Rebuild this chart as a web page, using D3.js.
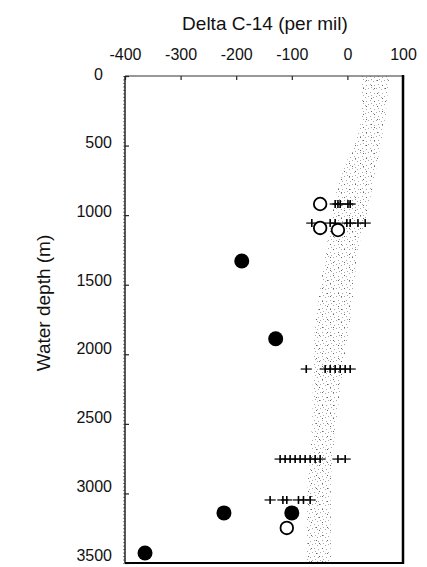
<!DOCTYPE html>
<html>
<head>
<meta charset="utf-8">
<script src="https://cdn.jsdelivr.net/npm/d3@7"></script>
<style>
  body { margin: 0; background: #fff; }
  text { font-family: Arial, "Liberation Sans", Helvetica, sans-serif; fill: #111; }
</style>
</head>
<body>
<svg id="chart" width="427" height="567"></svg>
<script>
// tick labels
var xTicks = [-400, -300, -200, -100, 0, 100];
var yTicks = [0, 500, 1000, 1500, 2000, 2500, 3000, 3500];

// filled circles (depth m, delta C-14 per mil)
var filledDepth = [1330, 1888, 3140, 3140, 3428];
var filledDelta = [-190, -129, -222, -100, -364];

// open circles
var openDepth = [920, 1092, 1107, 3248];
var openDelta = [-49, -49, -17, -109];

// crosses with horizontal error bars
var crossDepth = [920, 920, 920, 920, 920,
    1057, 1057, 1057, 1057, 1057, 1057, 1057,
    2106, 2106, 2106, 2106, 2106, 2106, 2106,
    2753, 2753, 2753, 2753, 2753, 2753, 2753, 2753, 2753, 2753, 2753,
    3047, 3047, 3047, 3047, 3047, 3047];
var crossDelta = [-22, -17, -13, 1, 5,
    -64, -31, -22, -1, 5, 19, 32,
    -74, -40, -31, -22, -13, -4, 5,
    -121, -112, -103, -94, -85, -76, -67, -58, -49, -17, -4,
    -139, -116, -109, -88, -79, -67];
var crossErr = 10;

// stippled band (edges in per mil at each depth)
var bandDepth = [0, 300, 600, 800, 1000, 1200, 1500, 1800, 2100, 2400, 2700, 3000, 3500];
var bandLeft = [25, 25, 0, -18, -28, -36, -48, -58, -62, -63, -66, -72, -73];
var bandRight = [75, 68, 55, 45, 35, 22, 12, 4, -8, -17, -26, -30, -30];

var svg = d3.select('#chart');

var x = d3.scaleLinear().domain([-400, 100]).range([125, 403]);
var y = d3.scaleLinear().domain([0, 3500]).range([76, 563]);

// stipple patterns for the band
var defs = svg.append('defs');
var p1 = defs.append('pattern').attr('id', 'dots1').attr('patternUnits', 'userSpaceOnUse')
    .attr('width', 8).attr('height', 8);
[[0, 0], [5, 1], [2, 4], [6, 5], [3, 7]].forEach(function (d) {
    p1.append('rect').attr('x', d[0]).attr('y', d[1]).attr('width', 1).attr('height', 1).attr('fill', '#aaa');
});
var p2 = defs.append('pattern').attr('id', 'dots2').attr('patternUnits', 'userSpaceOnUse')
    .attr('width', 11).attr('height', 13);
[[3, 2], [8, 7], [0, 10]].forEach(function (d) {
    p2.append('rect').attr('x', d[0]).attr('y', d[1]).attr('width', 1).attr('height', 1).attr('fill', '#666');
});

var band = d3.area()
    .x0(function (d, i) { return x(bandLeft[i]); })
    .x1(function (d, i) { return x(bandRight[i]); })
    .y(function (d) { return y(d); })
    .curve(d3.curveMonotoneY);

svg.append('path').datum(bandDepth).attr('d', band).attr('fill', 'url(#dots1)');
svg.append('path').datum(bandDepth).attr('d', band).attr('fill', 'url(#dots2)');

// top axis
var xAxis = svg.append('g').attr('transform', 'translate(0,76)')
    .call(d3.axisTop(x).tickValues(xTicks).tickSize(-4).tickFormat(d3.format('d')));
xAxis.select('.domain').remove();
xAxis.selectAll('line').attr('stroke', '#222').attr('stroke-width', 1.2);
xAxis.selectAll('text').attr('y', -16).attr('dy', 0)
    .style('font-size', '16px').text(function (d) { return d < 0 ? '-' + Math.abs(d) : d; });

// left axis
var yAxis = svg.append('g').attr('transform', 'translate(125,0)')
    .call(d3.axisLeft(y).tickValues(yTicks).tickSize(-4).tickPadding(13).tickFormat(d3.format('d')));
yAxis.select('.domain').remove();
yAxis.selectAll('line').attr('stroke', '#222').attr('stroke-width', 1.2);
yAxis.selectAll('text').style('font-size', '16px').attr('dy', '0.25em')
    .attr('y', function (d) { return -1 - d / 3500 * 6; })
    .attr('x', function (d) { return d === 0 ? -22 : -13; });

// minor ticks on left axis
var yMinor = svg.append('g').attr('transform', 'translate(125,0)')
    .call(d3.axisLeft(y).tickValues(d3.range(0, 3501, 25)).tickSize(2).tickFormat(''));
yMinor.select('.domain').remove();
yMinor.selectAll('line').attr('stroke', '#666').attr('stroke-width', 0.8);

// frame
svg.append('line').attr('x1', 125).attr('x2', 403).attr('y1', 76).attr('y2', 76)
    .attr('stroke', '#333').attr('stroke-width', 1.2);
svg.append('line').attr('x1', 125).attr('x2', 125).attr('y1', 76).attr('y2', 563)
    .attr('stroke', '#222').attr('stroke-width', 1.5);
svg.append('line').attr('x1', 403).attr('x2', 403).attr('y1', 75).attr('y2', 564)
    .attr('stroke', '#000').attr('stroke-width', 2.5);
svg.append('line').attr('x1', 125).attr('x2', 404).attr('y1', 563).attr('y2', 563)
    .attr('stroke', '#000').attr('stroke-width', 2);

// crosses
var crosses = svg.append('g');
crossDepth.forEach(function (dep, i) {
    var cx = x(crossDelta[i]), cy = y(dep);
    crosses.append('line').attr('x1', x(crossDelta[i] - crossErr)).attr('x2', x(crossDelta[i] + crossErr))
        .attr('y1', cy).attr('y2', cy).attr('stroke', '#000').attr('stroke-width', 1.2);
    crosses.append('line').attr('x1', cx).attr('x2', cx).attr('y1', cy - 4).attr('y2', cy + 4)
        .attr('stroke', '#000').attr('stroke-width', 1.6);
});

// open circles
svg.append('g').selectAll('circle').data(openDepth).join('circle')
    .attr('cx', function (d, i) { return x(openDelta[i]); })
    .attr('cy', function (d) { return y(d); })
    .attr('r', 6.3).attr('fill', '#fff').attr('stroke', '#000').attr('stroke-width', 1.8);

// filled circles
svg.append('g').selectAll('circle').data(filledDepth).join('circle')
    .attr('cx', function (d, i) { return x(filledDelta[i]); })
    .attr('cy', function (d) { return y(d); })
    .attr('r', 7.5).attr('fill', '#000');

// titles
svg.append('text').attr('x', 265).attr('y', 30).attr('text-anchor', 'middle')
    .style('font-size', '19px').text('Delta C-14 (per mil)');
svg.append('text').attr('transform', 'translate(50,303) rotate(-90)').attr('text-anchor', 'middle')
    .style('font-size', '19px').text('Water depth (m)');
</script>
</body>
</html>
